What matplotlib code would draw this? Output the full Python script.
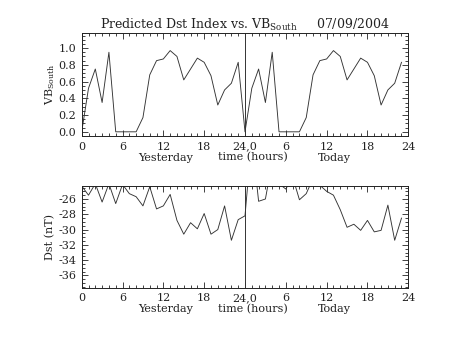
import matplotlib
matplotlib.use("Agg")
import matplotlib.pyplot as plt
import numpy as np
from matplotlib.ticker import MultipleLocator

plt.rcParams['font.family'] = ['DejaVu Serif']
plt.rcParams['axes.unicode_minus'] = False

# Data (hourly values)
hours_yesterday = list(range(0, 24))
hours_today = list(range(24, 48))

vb_yesterday = [0.0, 0.52, 0.75, 0.35, 0.95, 0.0, 0.0, 0.0, 0.0, 0.17, 0.68, 0.85,
                0.87, 0.97, 0.90, 0.62, 0.75, 0.88, 0.83, 0.67, 0.32, 0.50, 0.58, 0.83]
vb_today = [0.0, 0.52, 0.75, 0.35, 0.95, 0.0, 0.0, 0.0, 0.0, 0.17, 0.68, 0.85,
            0.87, 0.97, 0.90, 0.62, 0.75, 0.88, 0.83, 0.67, 0.32, 0.50, 0.58, 0.83]

dst_yesterday = [-24.3, -25.5, -24.0, -26.4, -24.0, -26.6, -24.1, -25.3, -25.7, -26.9, -24.4, -27.3,
                 -26.9, -25.4, -28.8, -30.6, -29.1, -29.9, -27.9, -30.6, -30.0, -26.9, -31.4, -28.7]
dst_today = [-28.2, -18.0, -26.3, -26.0, -21.1, -24.0, -24.7, -23.1, -26.1, -25.3, -23.3, -24.2,
             -25.0, -25.5, -27.4, -29.7, -29.3, -30.1, -28.8, -30.3, -30.1, -26.8, -31.4, -28.5]

xtick_pos = [0, 6, 12, 18, 24, 30, 36, 42, 48]
xtick_labels = ['0', '6', '12', '18', '24,0', '6', '12', '18', '24']
vb_ticks = [0.0, 0.2, 0.4, 0.6, 0.8, 1.0]
dst_ticks = [-26, -28, -30, -32, -34, -36]

title = 'Predicted Dst Index vs. VB$_{\\mathregular{South}}$     07/09/2004'

fig = plt.figure(figsize=(4.53, 3.40), dpi=100)
W, H = 453.0, 340.0
left = 81.7 / W
width = (408.3 - 81.7) / W
ax1 = fig.add_axes([left, (H - 136) / H, width, (136 - 33) / H])
ax2 = fig.add_axes([left, (H - 287.7) / H, width, (287.7 - 186) / H])

hours = hours_yesterday + hours_today
vb = vb_yesterday + vb_today
dst = dst_yesterday + dst_today

fs = 8
tc = '#222222'
lc = '#333333'

def style(ax):
    ax.set_xlim(0, 48)
    ax.set_xticks(xtick_pos)
    ax.set_xticklabels(xtick_labels, fontsize=fs, color=tc)
    ax.xaxis.set_minor_locator(MultipleLocator(1))
    ax.tick_params(which='both', direction='in', top=True, right=True, color=tc,
                   width=0.6, pad=4)
    ax.tick_params(which='major', length=4.5)
    ax.tick_params(which='minor', length=2.2)
    for s in ax.spines.values():
        s.set_linewidth(0.7)
        s.set_color(tc)
    ax.axvline(24, color=lc, lw=0.7)
    for xpos, txt in [(12.4, 'Yesterday'), (25.2, 'time (hours)'), (37.2, 'Today')]:
        ax.annotate(txt, xy=(xpos, 0), xycoords=('data', 'axes fraction'),
                    xytext=(0, -15.5), textcoords='offset points',
                    ha='center', va='center', fontsize=fs, color=tc)

ax1.plot(hours, vb, color=lc, lw=0.65)
ax1.set_ylim(-0.05, 1.18)
ax1.set_yticks(vb_ticks)
ax1.set_yticklabels(['%.1f' % v for v in vb_ticks], fontsize=fs, color=tc)
ax1.yaxis.set_minor_locator(MultipleLocator(0.05))
style(ax1)
ax1.set_ylabel('VB$_{\\mathregular{South}}$', fontsize=fs, color=tc, labelpad=1)
ax1.set_title(title, fontsize=9, color=tc, pad=3)

ax2.plot(hours, dst, color=lc, lw=0.65)
ax2.set_ylim(-37.6, -24.3)
ax2.set_yticks(dst_ticks)
ax2.set_yticklabels(['%d' % v for v in dst_ticks], fontsize=fs, color=tc)
ax2.yaxis.set_minor_locator(MultipleLocator(0.5))
style(ax2)
ax2.set_ylabel('Dst (nT)', fontsize=fs, color=tc, labelpad=2)

fig.savefig('out.png', dpi=100)
